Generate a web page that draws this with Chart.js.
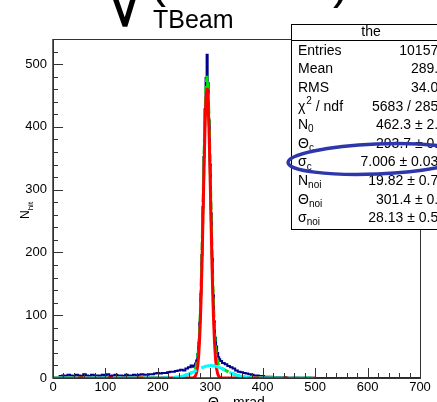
<!DOCTYPE html>
<html>
<head>
<meta charset="UTF-8">
<title>Theta_c fit</title>
<script src="https://cdn.jsdelivr.net/npm/chart.js@4"></script>
<style>
  body { margin: 0; background: #fff; }
  canvas { display: block; }
</style>
</head>
<body>
<canvas id="thetaChart" width="437" height="402"></canvas>
<script>
// histogram: bin centre (mrad) and counts
const histTheta = [
  10, 15, 20, 25, 30, 35, 40, 45, 50, 55, 60, 65, 70, 75, 80, 85, 90, 95, 100, 105,
  110, 115, 120, 125, 130, 135, 140, 145, 150, 155, 160, 165, 170, 175, 180, 185, 190, 195, 200, 205,
  210, 215, 220, 225, 230, 235, 240, 245, 250, 255, 260, 265,
  268, 270, 272, 274, 276, 278, 280, 282, 284, 286, 288, 290, 292, 294, 296, 298, 300, 302,
  304, 306, 308, 310, 312, 314, 316, 318, 320,
  325, 330, 335, 340, 345, 350, 355, 360, 365, 370, 375, 380, 385, 390, 395, 400, 405, 410,
  415, 420, 425, 430, 440, 450, 700
];
const histCounts = [
  0, 3, 4, 3, 5, 4, 3, 5, 4, 3, 6, 4, 3, 5, 4, 4, 3, 5, 4, 6,
  3, 4, 5, 4, 4, 3, 5, 4, 4, 5, 4, 5, 6, 5, 5, 6, 6, 7, 8, 7,
  8, 8, 9, 10, 10, 11, 12, 13, 12, 15, 17, 20,
  18, 20, 23, 28, 38, 56, 88, 134, 196, 272, 352, 428, 478, 515, 470, 410, 340, 262,
  190, 132, 90, 64, 50, 40, 33, 30, 27,
  24, 22, 19, 17, 15, 12, 10, 9, 8, 7, 6, 5, 4, 4, 3, 3, 2, 2,
  2, 1, 1, 1, 1, 0, 0
];

// fitted functions sampled at fitTheta
const fitTheta = [
  0, 50, 100, 150, 200, 210, 220, 230, 240, 250, 260,
  268, 270, 272, 274, 276, 278, 280, 282, 284, 286, 288, 290, 292, 294, 296, 298, 300,
  302, 304, 306, 308, 310, 312, 314, 316, 318, 320,
  325, 330, 340, 350, 360, 370, 380, 390, 400, 450, 500
];
const fitSignal = [
  0, 0, 0, 0, 0, 0, 0, 0, 0, 0, 0,
  0.6, 1.5, 3.8, 8.8, 18.9, 37.3, 68.1, 114.3, 176.9, 252.3, 331.8, 401.6, 448.6, 462.0, 437.7, 382.6, 308.2,
  228.8, 156.4, 98.7, 57.3, 30.7, 15.2, 6.9, 2.9, 1.1, 0.4,
  0, 0, 0, 0, 0, 0, 0, 0, 0, 0, 0
];
const fitNoise = [
  0, 0, 0, 0, 0.03, 0.1, 0.3, 0.8, 1.8, 3.7, 6.7,
  9.8, 10.6, 11.5, 12.3, 13.2, 14.0, 14.8, 15.6, 16.4, 17.1, 17.7, 18.3, 18.7, 19.1, 19.5, 19.7, 19.8,
  19.8, 19.7, 19.6, 19.3, 18.9, 18.5, 17.9, 17.3, 16.7, 15.9,
  13.9, 11.8, 7.7, 4.5, 2.3, 1.0, 0.4, 0.14, 0.04, 0, 0
];
const fitTotal = [
  0, 0, 0, 0, 0.03, 0.1, 0.3, 0.8, 1.8, 3.7, 6.7,
  10.4, 12.1, 15.3, 21.1, 32.1, 51.3, 82.9, 129.9, 193.3, 269.4, 349.5, 419.9, 467.3, 481.1, 457.2, 402.3, 328.0,
  248.6, 176.1, 118.3, 76.6, 49.6, 33.7, 24.8, 20.2, 17.8, 16.3,
  13.9, 11.8, 7.7, 4.5, 2.3, 1.0, 0.4, 0.14, 0.04, 0, 0
];

// stats box text
const statTitle = 'the';
const statLabels = [
  { main: 'Entries' },
  { main: 'Mean' },
  { main: 'RMS' },
  { main: 'χ', sup: '2', tail: ' / ndf' },
  { main: 'N', sub: '0' },
  { main: 'Θ', sub: 'c' },
  { main: 'σ', sub: 'c' },
  { main: 'N', sub: 'noi' },
  { main: 'Θ', sub: 'noi' },
  { main: 'σ', sub: 'noi' }
];
const statValues = [
  '101574', '289.4', '34.06', '5683 / 2853', '462.3 ± 2.5', '293.7 ± 0.1',
  '7.006 ± 0.036', '19.82 ± 0.70', '301.4 ± 0.9', '28.13 ± 0.55'
];

const FONT = "'Liberation Sans', Arial, Helvetica, sans-serif";

function pts(xs, ys) {
  return xs.map((x, i) => ({ x: x, y: ys[i] }));
}

// text with optional subscript / superscript, returns end x
function richText(ctx, x, y, item, size) {
  ctx.font = size + 'px ' + FONT;
  ctx.fillText(item.main, x, y);
  let cx = x + ctx.measureText(item.main).width;
  if (item.sub) {
    ctx.font = Math.round(size * 0.7) + 'px ' + FONT;
    ctx.fillText(item.sub, cx, y + size * 0.3);
    cx += ctx.measureText(item.sub).width;
  }
  if (item.sup) {
    ctx.font = Math.round(size * 0.7) + 'px ' + FONT;
    ctx.fillText(item.sup, cx + 1, y - size * 0.4);
    cx += ctx.measureText(item.sup).width + 1;
  }
  if (item.tail) {
    ctx.font = size + 'px ' + FONT;
    ctx.fillText(item.tail, cx, y);
    cx += ctx.measureText(item.tail).width;
  }
  return cx;
}

const rootFrame = {
  id: 'rootFrame',
  afterDatasetsDraw(chart) {
    const { ctx, chartArea: a, scales: { x, y } } = chart;
    ctx.save();
    ctx.strokeStyle = '#333';
    ctx.lineWidth = 1;
    ctx.strokeRect(a.left + 0.5, a.top + 0.5, a.right - a.left, a.bottom - a.top);
    ctx.lineWidth = 1.5;
    ctx.beginPath();
    ctx.moveTo(a.left, a.top);
    ctx.lineTo(a.left, a.bottom);
    ctx.lineTo(a.right, a.bottom);
    ctx.stroke();
    // inward ticks like ROOT
    ctx.lineWidth = 1;
    ctx.beginPath();
    for (let v = 0; v <= 700; v += 20) {
      const px = Math.round(x.getPixelForValue(v)) + 0.5;
      ctx.moveTo(px, a.bottom);
      ctx.lineTo(px, a.bottom - (v % 100 === 0 ? 10 : 5));
    }
    for (let v = 0; v <= 540; v += 20) {
      const py = Math.round(y.getPixelForValue(v)) + 0.5;
      ctx.moveTo(a.left, py);
      ctx.lineTo(a.left + (v % 100 === 0 ? 10 : 5), py);
    }
    ctx.stroke();
    ctx.restore();
  },
  afterDraw(chart) {
    const { ctx } = chart;
    ctx.save();
    ctx.fillStyle = '#000';
    ctx.textBaseline = 'alphabetic';
    ctx.textAlign = 'left';

    // bits of the formula above the pad
    ctx.font = '90px ' + FONT;
    ctx.fillText('√', 100, 26);
    ctx.font = '48px ' + FONT;
    ctx.fillText('(', 150, -3);
    ctx.fillText(')', 333, -2);
    ctx.font = '25px ' + FONT;
    ctx.fillText('TBeam', 153, 27.5);

    // axis titles
    richText(ctx, 208, 407, { main: 'Θ', sub: 'c' }, 14);
    ctx.font = '14px ' + FONT;
    ctx.fillText('mrad', 233, 407);
    ctx.save();
    ctx.translate(29, 219);
    ctx.rotate(-Math.PI / 2);
    richText(ctx, 0, 0, { main: 'N', sub: 'hit' }, 12);
    ctx.restore();

    // stats box
    const bx = 291, by = 24, bw = 160, bh = 205;
    ctx.fillStyle = '#fff';
    ctx.fillRect(bx, by, bw, bh);
    ctx.strokeStyle = '#000';
    ctx.lineWidth = 1;
    ctx.strokeRect(bx + 0.5, by + 0.5, bw, bh);
    ctx.beginPath();
    ctx.moveTo(bx, by + 16.5);
    ctx.lineTo(bx + bw, by + 16.5);
    ctx.stroke();
    ctx.fillStyle = '#000';
    ctx.textBaseline = 'middle';
    ctx.textAlign = 'center';
    ctx.font = '14px ' + FONT;
    ctx.fillText(statTitle, 371, 32.5);
    statLabels.forEach((lab, i) => {
      const ry = 51 + i * 18.6;
      ctx.textAlign = 'left';
      richText(ctx, 298, ry, lab, 14);
      ctx.textAlign = 'right';
      ctx.font = '14px ' + FONT;
      ctx.fillText(statValues[i], 446, ry);
    });

    // hand-drawn ellipse around sigma_c
    ctx.strokeStyle = 'rgb(45, 55, 170)';
    ctx.lineWidth = 3.5;
    ctx.beginPath();
    ctx.ellipse(377, 159, 89, 15, -0.04, 0, Math.PI * 2);
    ctx.stroke();
    ctx.restore();
  }
};

new Chart(document.getElementById('thetaChart'), {
  type: 'line',
  data: {
    datasets: [
      {
        label: 'noise',
        data: pts(fitTheta, fitNoise),
        borderColor: 'rgb(0, 255, 255)',
        borderWidth: 3,
        borderDash: [25, 5],
        pointRadius: 0,
        tension: 0
      },
      {
        label: 'signal',
        data: pts(fitTheta, fitSignal),
        borderColor: 'rgb(255, 0, 0)',
        borderWidth: 3,
        pointRadius: 0,
        tension: 0
      },
      {
        label: 'total',
        data: pts(fitTheta, fitTotal),
        borderColor: 'rgb(0, 230, 0)',
        borderWidth: 3,
        borderDash: [8, 4],
        pointRadius: 0,
        tension: 0
      },
      {
        label: 'data',
        data: pts(histTheta, histCounts),
        borderColor: 'rgb(0, 0, 140)',
        borderWidth: 2,
        stepped: 'middle',
        pointRadius: 0
      }
    ]
  },
  options: {
    responsive: false,
    animation: false,
    layout: { padding: { top: 39, right: 17, bottom: 0, left: 0 } },
    plugins: { legend: { display: false }, tooltip: { enabled: false } },
    scales: {
      x: {
        type: 'linear',
        min: 0,
        max: 700,
        grid: { display: false, drawTicks: false },
        border: { display: false },
        ticks: {
          stepSize: 100,
          includeBounds: false,
          autoSkip: false,
          maxRotation: 0,
          padding: 2,
          color: '#000',
          font: { family: FONT, size: 13 }
        },
        afterFit: s => { s.height = 24; }
      },
      y: {
        type: 'linear',
        min: 0,
        max: 540,
        grid: { display: false, drawTicks: false },
        border: { display: false },
        ticks: {
          stepSize: 100,
          includeBounds: false,
          padding: 6,
          color: '#000',
          font: { family: FONT, size: 13 }
        },
        afterFit: s => { s.width = 53; }
      }
    }
  },
  plugins: [rootFrame]
});
</script>
</body>
</html>
